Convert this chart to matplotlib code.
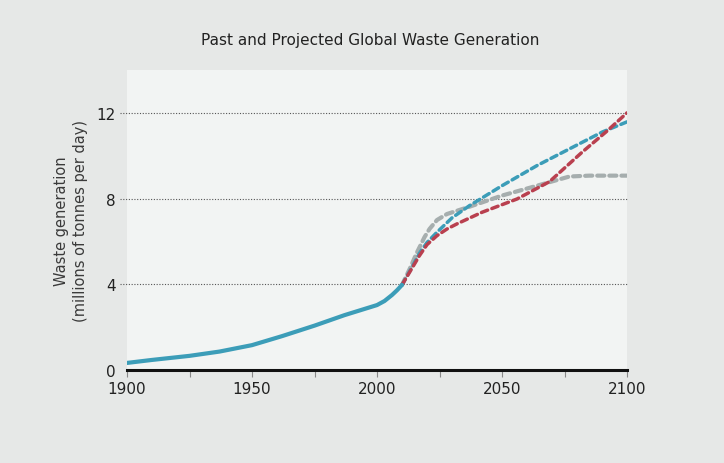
import matplotlib
matplotlib.use("Agg")
import matplotlib.pyplot as plt

# Historical
hist_years = [1900, 1910, 1925, 1937, 1950, 1962, 1975, 1987, 2000, 2003, 2006, 2008, 2010]
hist_vals = [0.33, 0.47, 0.66, 0.86, 1.16, 1.58, 2.07, 2.56, 3.03, 3.22, 3.50, 3.72, 3.97]

# Projections
red_years = [2010, 2014, 2017, 2020, 2024, 2028, 2032, 2042, 2056, 2069, 2082, 2092, 2100]
red_vals = [3.97, 4.75, 5.34, 5.85, 6.27, 6.58, 6.82, 7.36, 7.98, 8.79, 10.16, 11.15, 12.0]

blue_years = [2010, 2014, 2017, 2020, 2024, 2030, 2037, 2050, 2064, 2077, 2090, 2100]
blue_vals = [3.97, 4.8, 5.45, 5.95, 6.43, 7.1, 7.67, 8.6, 9.54, 10.32, 11.1, 11.58]

gray_years = [2010, 2013, 2016, 2019, 2021, 2024, 2028, 2037, 2050, 2064, 2077, 2085, 2100]
gray_vals = [3.97, 4.7, 5.49, 6.2, 6.58, 7.0, 7.28, 7.62, 8.14, 8.6, 9.03, 9.07, 9.07]

yticks = [0, 4, 8, 12]
xticks = [1900, 1950, 2000, 2050, 2100]

fig = plt.figure(figsize=(7.24, 4.64), dpi=100)
fig.patch.set_facecolor("#e6e8e7")
ax = fig.add_axes([127/724, 1-371/464, 500/724, 300/464])
ax.set_facecolor("#f2f4f3")

blue = "#3c9db8"
red = "#b9404f"
gray = "#a6aeae"

for y in [4, 8, 12]:
    ax.axhline(y, color="#555555", lw=0.8, ls=(0, (1, 1.5)), zorder=1, xmin=-0.015, clip_on=False)

ax.plot(gray_years, gray_vals, color=gray, lw=3.0, ls=(0, (1.7, 1.2)), zorder=2, dash_capstyle="round")
ax.plot(blue_years, blue_vals, color=blue, lw=2.5, ls=(0, (1.9, 1.3)), zorder=3, dash_capstyle="round")
ax.plot(red_years, red_vals, color=red, lw=2.5, ls=(0, (1.9, 1.3)), zorder=4, dash_capstyle="round")
ax.plot(hist_years, hist_vals, color=blue, lw=3.0, zorder=5, solid_capstyle="round")

ax.set_xlim(1900, 2100)
ax.set_ylim(0, 14)
for s in ["top", "right", "left"]:
    ax.spines[s].set_visible(False)
ax.spines["bottom"].set_color("#111111")
ax.spines["bottom"].set_linewidth(2.2)
ax.spines["bottom"].set_zorder(6)

ax.set_xticks(xticks)
ax.set_xticks([1925, 1975, 2025, 2075], minor=True)
ax.tick_params(axis="x", which="both", direction="out", length=5, width=0.8, color="#888888", labelsize=11, labelcolor="#222222", pad=3)
ax.set_yticks(yticks)
ax.tick_params(axis="y", length=0, labelsize=11, labelcolor="#222222", pad=8)

ax.set_ylabel("Waste generation\n(millions of tonnes per day)", fontsize=10.5, color="#3a3a3a", labelpad=6, linespacing=1.35)
fig.text(370/724, 1-41/464, "Past and Projected Global Waste Generation", ha="center", va="center", fontsize=11, color="#222222")

fig.savefig("out.png", dpi=100, facecolor=fig.get_facecolor())
